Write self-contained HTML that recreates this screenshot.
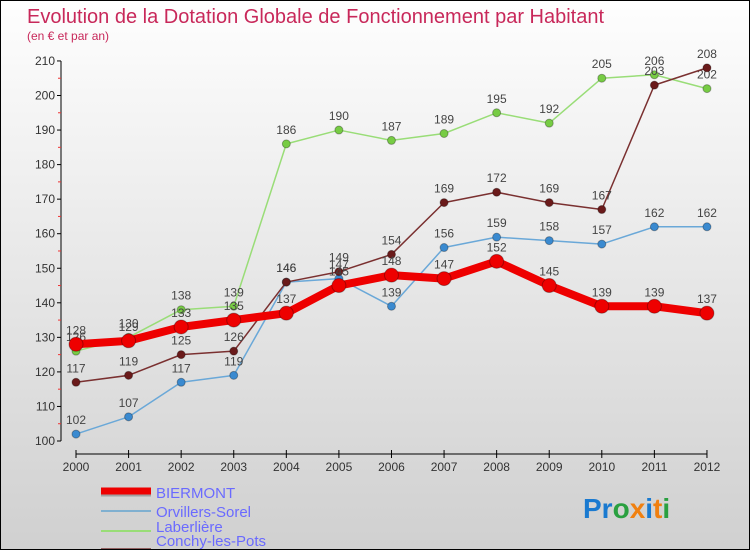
<!DOCTYPE html>
<html><head><meta charset="utf-8"><style>
body{margin:0}
#c{width:748px;height:548px;border:1px solid #000;background:linear-gradient(#fefefe,#d0d0d0);position:relative;font-family:"Liberation Sans",sans-serif;overflow:hidden}
</style></head><body>
<div id="c">
<svg width="748" height="548">
<text x="26" y="22" font-size="20" fill="#c8285a">Evolution de la Dotation Globale de Fonctionnement par Habitant</text>
<text x="26" y="39" font-size="12" fill="#c8285a">(en € et par an)</text>
<g id="axes"></g><g id="series"></g>
<g>
<line x1="100" y1="492" x2="150" y2="492" stroke="#555" stroke-width="7" opacity="0.4"/>
<line x1="100" y1="490" x2="150" y2="490" stroke="#e00" stroke-width="7"/>
<text x="155" y="497" font-size="15" fill="#6a6aff">BIERMONT</text>
<line x1="100" y1="510" x2="150" y2="510" stroke="#80b0d0" stroke-width="2"/>
<text x="155" y="516" font-size="15" fill="#6a6aff">Orvillers-Sorel</text>
<line x1="100" y1="530" x2="150" y2="530" stroke="#99dd77" stroke-width="2"/>
<text x="155" y="531" font-size="15" fill="#6a6aff">Laberlière</text>
<line x1="100" y1="548" x2="150" y2="548" stroke="#906060" stroke-width="2"/>
<text x="155" y="545" font-size="15" fill="#6a6aff">Conchy-les-Pots</text>
</g>
<text x="582" y="517" font-size="28" font-weight="bold"><tspan fill="#1a7ad0">Pr</tspan><tspan fill="#2aa040">o</tspan><tspan fill="#f08010">x</tspan><tspan fill="#1a7ad0">i</tspan><tspan fill="#f08010">t</tspan><tspan fill="#2aa040">i</tspan></text>
</svg></div>
<script>
const years=[2000,2001,2002,2003,2004,2005,2006,2007,2008,2009,2010,2011,2012];
const yTicks=[100,110,120,130,140,150,160,170,180,190,200,210];
const biermont=[128,129,133,135,137,145,148,147,152,145,139,139,137];
const orvillers=[102,107,117,119,146,147,139,156,159,158,157,162,162];
const laberliere=[126,130,138,139,186,190,187,189,195,192,205,206,202];
const conchy=[117,119,125,126,146,149,154,169,172,169,167,203,208];
const NS="http://www.w3.org/2000/svg";
const X=i=>75+i*52.58, Y=v=>440-(v-100)*3.455;
function mk(t,a,p){const e=document.createElementNS(NS,t);for(const k in a)e.setAttribute(k,a[k]);p.appendChild(e);return e;}
const ax=document.getElementById('axes');
mk('line',{x1:60,y1:Y(210),x2:60,y2:440,stroke:'#000'},ax);
yTicks.forEach(v=>{mk('line',{x1:56,y1:Y(v),x2:60,y2:Y(v),stroke:'#000'},ax);
 if(v<210)mk('line',{x1:57,y1:Y(v+5),x2:60,y2:Y(v+5),stroke:'#e33'},ax);
 const t=mk('text',{x:54,y:Y(v)+4,'font-size':12,fill:'#333','text-anchor':'end'},ax);t.textContent=v;
 });
mk('line',{x1:X(0),y1:453,x2:X(12),y2:453,stroke:'#000'},ax);
years.forEach((y,i)=>{mk('line',{x1:X(i),y1:449,x2:X(i),y2:457,stroke:'#000'},ax);
 const t=mk('text',{x:X(i),y:470,'font-size':12,fill:'#333','text-anchor':'middle'},ax);t.textContent=y;
 });
const sg=document.getElementById('series');
function draw(d,col,w,r,dot,name){
 const g=mk('g',{},sg);
 mk('polyline',{points:d.map((v,i)=>X(i)+','+Y(v)).join(' '),fill:'none',stroke:col,'stroke-width':w,'stroke-linejoin':'round'},g);
 d.forEach((v,i)=>{const c=mk('circle',{cx:X(i),cy:Y(v),r:r,fill:dot,stroke:'rgba(0,0,0,0.3)'},g);
  
  const t=mk('text',{x:X(i),y:Y(v)-10,'font-size':12,fill:'#444','text-anchor':'middle'},g);t.textContent=v;});
}
draw(orvillers,'#6aa8d8',1.5,4,'#3a8ad0','series-orvillers');
draw(laberliere,'#99dd77',1.5,4,'#77cc44','series-laberliere');
draw(conchy,'#7a3030',1.5,4,'#6a1a1a','series-conchy');
draw(biermont,'#ee0000',8,7,'#ee0000','series-biermont');
</script>
</body></html>
